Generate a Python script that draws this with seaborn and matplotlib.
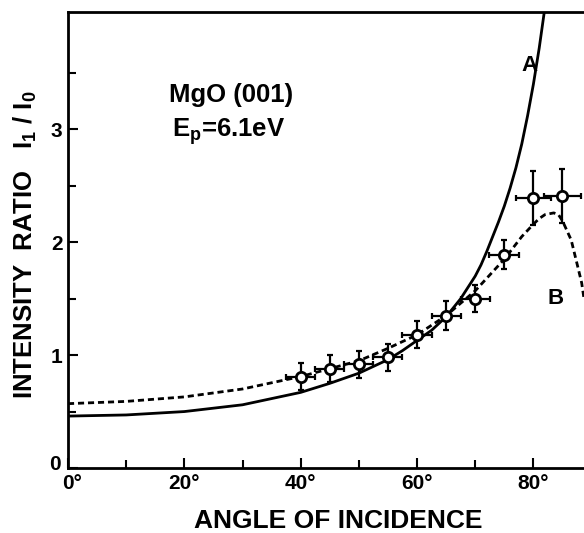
import matplotlib
matplotlib.use("Agg")
import matplotlib.pyplot as plt
import matplotlib.transforms as mtransforms
import seaborn as sns
import pandas as pd

# ---- data ----
angle_a = [0, 10, 20, 30, 40, 45, 50, 55, 57.5, 60, 62.5, 65, 67.5, 70, 71, 72, 73, 74,
           75, 76, 77, 78, 79, 80, 81, 81.9]
ratio_a = [0.46, 0.47, 0.50, 0.56, 0.67, 0.75, 0.84, 0.96, 1.04, 1.13, 1.22, 1.34, 1.50,
           1.70, 1.80, 1.92, 2.05, 2.18, 2.32, 2.48, 2.66, 2.87, 3.12, 3.40, 3.72, 4.05]

angle_b = [0, 10, 20, 30, 40, 45, 50, 55, 60, 65, 70, 75, 78, 80, 81, 82, 83.5, 84.3,
           85, 86.5, 87.5, 88.3, 88.7]
ratio_b = [0.57, 0.59, 0.63, 0.70, 0.81, 0.88, 0.95, 1.06, 1.18, 1.35, 1.57, 1.85, 2.05,
           2.16, 2.21, 2.245, 2.26, 2.245, 2.19, 2.02, 1.81, 1.64, 1.50]

meas_angle = [40, 45, 50, 55, 60, 65, 70, 75, 80, 85]
meas_ratio = [0.81, 0.88, 0.92, 0.98, 1.18, 1.35, 1.50, 1.89, 2.39, 2.41]
meas_yerr = [0.12, 0.12, 0.12, 0.12, 0.12, 0.13, 0.12, 0.13, 0.24, 0.24]
meas_xerr = [2.5, 2.5, 2.5, 2.5, 2.5, 2.5, 2.5, 2.6, 3.0, 3.2]

x_ticks = [0, 20, 40, 60, 80]
x_tick_labels = ["0°", "20°", "40°", "60°", "80°"]
y_ticks = [0, 1, 2, 3]
y_tick_labels = ["0", "1", "2", "3"]

sns.set_theme(style="ticks")
plt.rcParams["font.family"] = ["Liberation Sans", "DejaVu Sans"]
plt.rcParams["font.weight"] = "bold"
plt.rcParams["text.color"] = "black"
plt.rcParams["axes.labelcolor"] = "black"
plt.rcParams["xtick.color"] = "black"
plt.rcParams["ytick.color"] = "black"
plt.rcParams["mathtext.fontset"] = "custom"
plt.rcParams["mathtext.rm"] = "Liberation Sans:bold"
plt.rcParams["mathtext.it"] = "Liberation Sans:bold"
plt.rcParams["mathtext.bf"] = "Liberation Sans:bold"

fig = plt.figure(figsize=(5.84, 5.33), dpi=100)
ax = fig.add_axes([68 / 584, 1 - 468 / 533, 1 - 68 / 584, (468 - 12) / 533])

df_a = pd.DataFrame({"angle": angle_a, "ratio": ratio_a})
df_b = pd.DataFrame({"angle": angle_b, "ratio": ratio_b})

sns.lineplot(data=df_a, x="angle", y="ratio", ax=ax, color="black", lw=2.0,
             sort=False, estimator=None)
sns.lineplot(data=df_b, x="angle", y="ratio", ax=ax, color="black", lw=2.0,
             sort=False, estimator=None, linestyle=(0, (2.2, 1.4)))

ax.errorbar(meas_angle, meas_ratio, yerr=meas_yerr, xerr=meas_xerr, fmt="none",
            ecolor="black", elinewidth=1.6, capsize=2.5, capthick=1.6, zorder=3)
sns.scatterplot(x=meas_angle, y=meas_ratio, ax=ax, marker="o", s=55,
                facecolor="white", edgecolor="black", linewidth=2.0, zorder=4)

ax.set_xlim(0, 88.7)
ax.set_ylim(0, 4.04)
ax.set_xticks(x_ticks)
ax.set_xticklabels(x_tick_labels)
ax.set_xticks([10, 30, 50, 70], minor=True)
ax.set_yticks(y_ticks)
ax.set_yticklabels(y_tick_labels)
ax.set_yticks([0.5, 1.5, 2.5, 3.5], minor=True)

ax.tick_params(axis="both", which="major", direction="in", length=7, width=1.5,
               labelsize=15, colors="black")
ax.tick_params(axis="both", which="minor", direction="in", length=6, width=1.5)
ax.tick_params(axis="x", pad=4)
ax.tick_params(axis="y", pad=4)
for lab in ax.get_xticklabels() + ax.get_yticklabels():
    lab.set_fontweight("bold")

# nudge the two corner labels apart ("0" on y and "0°" on x)
ylab0 = ax.get_yticklabels()[0]
ylab0.set_transform(ylab0.get_transform() +
                    mtransforms.ScaledTranslation(-2 / 100, 6 / 100, fig.dpi_scale_trans))
xlab0 = ax.get_xticklabels()[0]
xlab0.set_transform(xlab0.get_transform() +
                    mtransforms.ScaledTranslation(4 / 100, 0, fig.dpi_scale_trans))

for side in ["left", "bottom", "top"]:
    ax.spines[side].set_linewidth(2.0)
    ax.spines[side].set_color("black")
ax.spines["right"].set_visible(False)

ax.set_xlabel("")
ax.set_ylabel("")
fig.text(338 / 584, 1 - 521 / 533, "ANGLE OF INCIDENCE",
         ha="center", va="center", fontsize=19, fontweight="bold")
fig.text(25 / 584, 1 - 245 / 533, r"INTENSITY  RATIO   I$_1$ / I$_0$", rotation=90,
         ha="center", va="center", fontsize=18.5, fontweight="bold")

fig.text(169 / 584, 1 - 95 / 533, "MgO (001)", ha="left", va="center",
         fontsize=18.5, fontweight="bold")
fig.text(172 / 584, 1 - 132 / 533, r"E$_\mathrm{p}$=6.1eV", ha="left", va="center",
         fontsize=18.5, fontweight="bold")
fig.text(529 / 584, 1 - 66 / 533, "A", ha="center", va="center",
         fontsize=16, fontweight="bold")
fig.text(556 / 584, 1 - 299 / 533, "B", ha="center", va="center",
         fontsize=16, fontweight="bold")

fig.savefig("out.png", dpi=100, facecolor="white")
